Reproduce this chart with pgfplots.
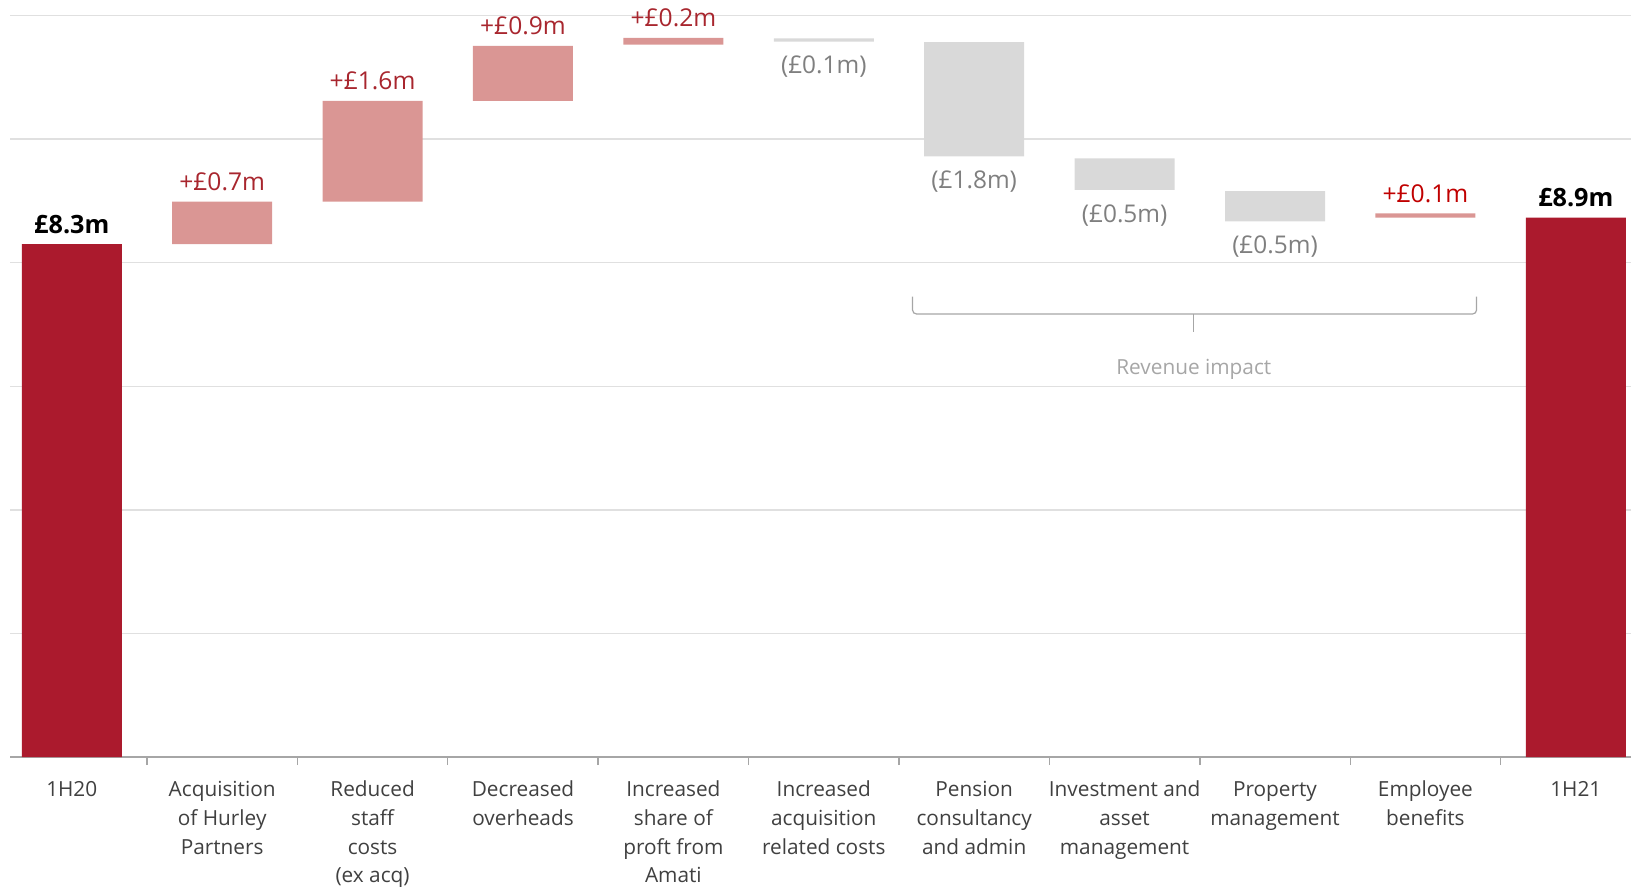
\documentclass[border=0pt]{standalone}
\usepackage{fontspec}
\setmainfont{Open Sans}
\usepackage{pgfplots}
\pgfplotsset{compat=1.18}
\usepackage{pgfplotstable}

\definecolor{darkred}{HTML}{AB1A2D}
\definecolor{lightred}{HTML}{DA9694}
\definecolor{barg}{HTML}{D9D9D9}
\definecolor{gridg}{HTML}{E0E0E0}
\definecolor{axisg}{HTML}{A6A6A6}
\definecolor{labred}{HTML}{A8262E}
\definecolor{brightred}{HTML}{C00000}
\definecolor{labgray}{HTML}{7F7F7F}
\definecolor{revg}{HTML}{A6A6A6}
\definecolor{catcol}{HTML}{404040}

\tikzset{
  redlab/.style={anchor=base, yshift=5.5pt, font=\fontsize{12.3}{14}\selectfont, text=labred},
  graylab/.style={anchor=base, yshift=-16.2pt, font=\fontsize{12.2}{14}\selectfont, text=labgray},
  boldlab/.style={anchor=base, yshift=5.5pt, font=\fontsize{12.6}{14}\selectfont\bfseries, text=black},
}

\pgfplotstableread{
x base total inc dec
0 0 8.30 0 0
1 8.30 0 0.69 0
2 8.99 0 1.63 0
3 10.62 0 0.89 0
4 11.53 0 0.11 0
5 11.58 0 0 0.05
6 9.72 0 0 1.85
7 9.18 0 0 0.51
8 8.67 0 0 0.49
9 8.73 0 0.07 0
10 0 8.73 0 0
}\wf

\begin{document}
\begin{tikzpicture}
\useasboundingbox (0,0) rectangle (815.5pt,445pt);
\begin{axis}[
  at={(5.2pt,66.5pt)}, anchor=south west,
  scale only axis, width=810.3pt, height=370.7pt,
  xmin=-0.408, xmax=10.367, ymin=0, ymax=12,
  clip=false,
  ybar stacked, bar width=50pt,
  axis x line*=bottom, axis y line*=left,
  y axis line style={draw=none},
  x axis line style={draw=axisg, line width=1.2pt, -},
  ytick={0,2,...,12}, yticklabels={}, ytick style={draw=none},
  ymajorgrids, grid style={draw=gridg, line width=0.75pt},
  xtick={0,...,10},
  xtick style={draw=none},
  xticklabels={
    {\rule{0pt}{8pt}1H20},
    {\rule{0pt}{8pt}Acquisition\\of Hurley\\Partners},
    {\rule{0pt}{8pt}Reduced\\staff\\costs\\(ex acq)},
    {\rule{0pt}{8pt}Decreased\\overheads},
    {\rule{0pt}{8pt}Increased\\share of\\proft from\\Amati},
    {\rule{0pt}{8pt}Increased\\acquisition\\related costs},
    {\rule{0pt}{8pt}Pension\\consultancy\\and admin},
    {\rule{0pt}{8pt}Investment and\\asset\\management},
    {\rule{0pt}{8pt}Property\\management},
    {\rule{0pt}{8pt}Employee\\benefits},
    {\rule{0pt}{8pt}1H21}},
  xticklabel style={anchor=north, inner sep=0pt, yshift=-11.5pt, align=center,
    font=\fontsize{10.4}{14.4}\selectfont, text=catcol},
  extra x ticks={0.5,1.5,...,9.5},
  extra x tick labels={},
  extra x tick style={grid=none, tick align=outside, major tick length=4pt,
    xtick style={draw=axisg, line width=0.7pt}},
]
\addplot[draw=none, fill=none] table[x=x, y=base]{\wf};
\addplot[draw=none, fill=darkred] table[x=x, y=total]{\wf};
\addplot[draw=none, fill=lightred] table[x=x, y=inc]{\wf};
\addplot[draw=none, fill=barg] table[x=x, y=dec]{\wf};

\node[boldlab] at (axis cs:0,8.30) {£8.3m};
\node[redlab] at (axis cs:1,8.99) {+£0.7m};
\node[redlab] at (axis cs:2,10.62) {+£1.6m};
\node[redlab] at (axis cs:3,11.51) {+£0.9m};
\node[redlab] at (axis cs:4,11.64) {+£0.2m};
\node[graylab] at (axis cs:5,11.58) {(£0.1m)};
\node[graylab] at (axis cs:6,9.72) {(£1.8m)};
\node[graylab] at (axis cs:7,9.18) {(£0.5m)};
\node[graylab] at (axis cs:8,8.67) {(£0.5m)};
\node[redlab, text=brightred] at (axis cs:9,8.80) {+£0.1m};
\node[boldlab] at (axis cs:10,8.73) {£8.9m};

\draw[draw=axisg, line width=0.6pt, rounded corners=2pt]
  (axis cs:5.59,7.45) -- (axis cs:5.59,7.17) -- (axis cs:9.34,7.17) -- (axis cs:9.34,7.45);
\draw[draw=axisg, line width=0.6pt] (axis cs:7.46,7.17) -- (axis cs:7.46,6.88);
\node[anchor=base, font=\fontsize{10.4}{12}\selectfont, text=revg] at (axis cs:7.46,6.19) {Revenue impact};
\end{axis}
\end{tikzpicture}
\end{document}
